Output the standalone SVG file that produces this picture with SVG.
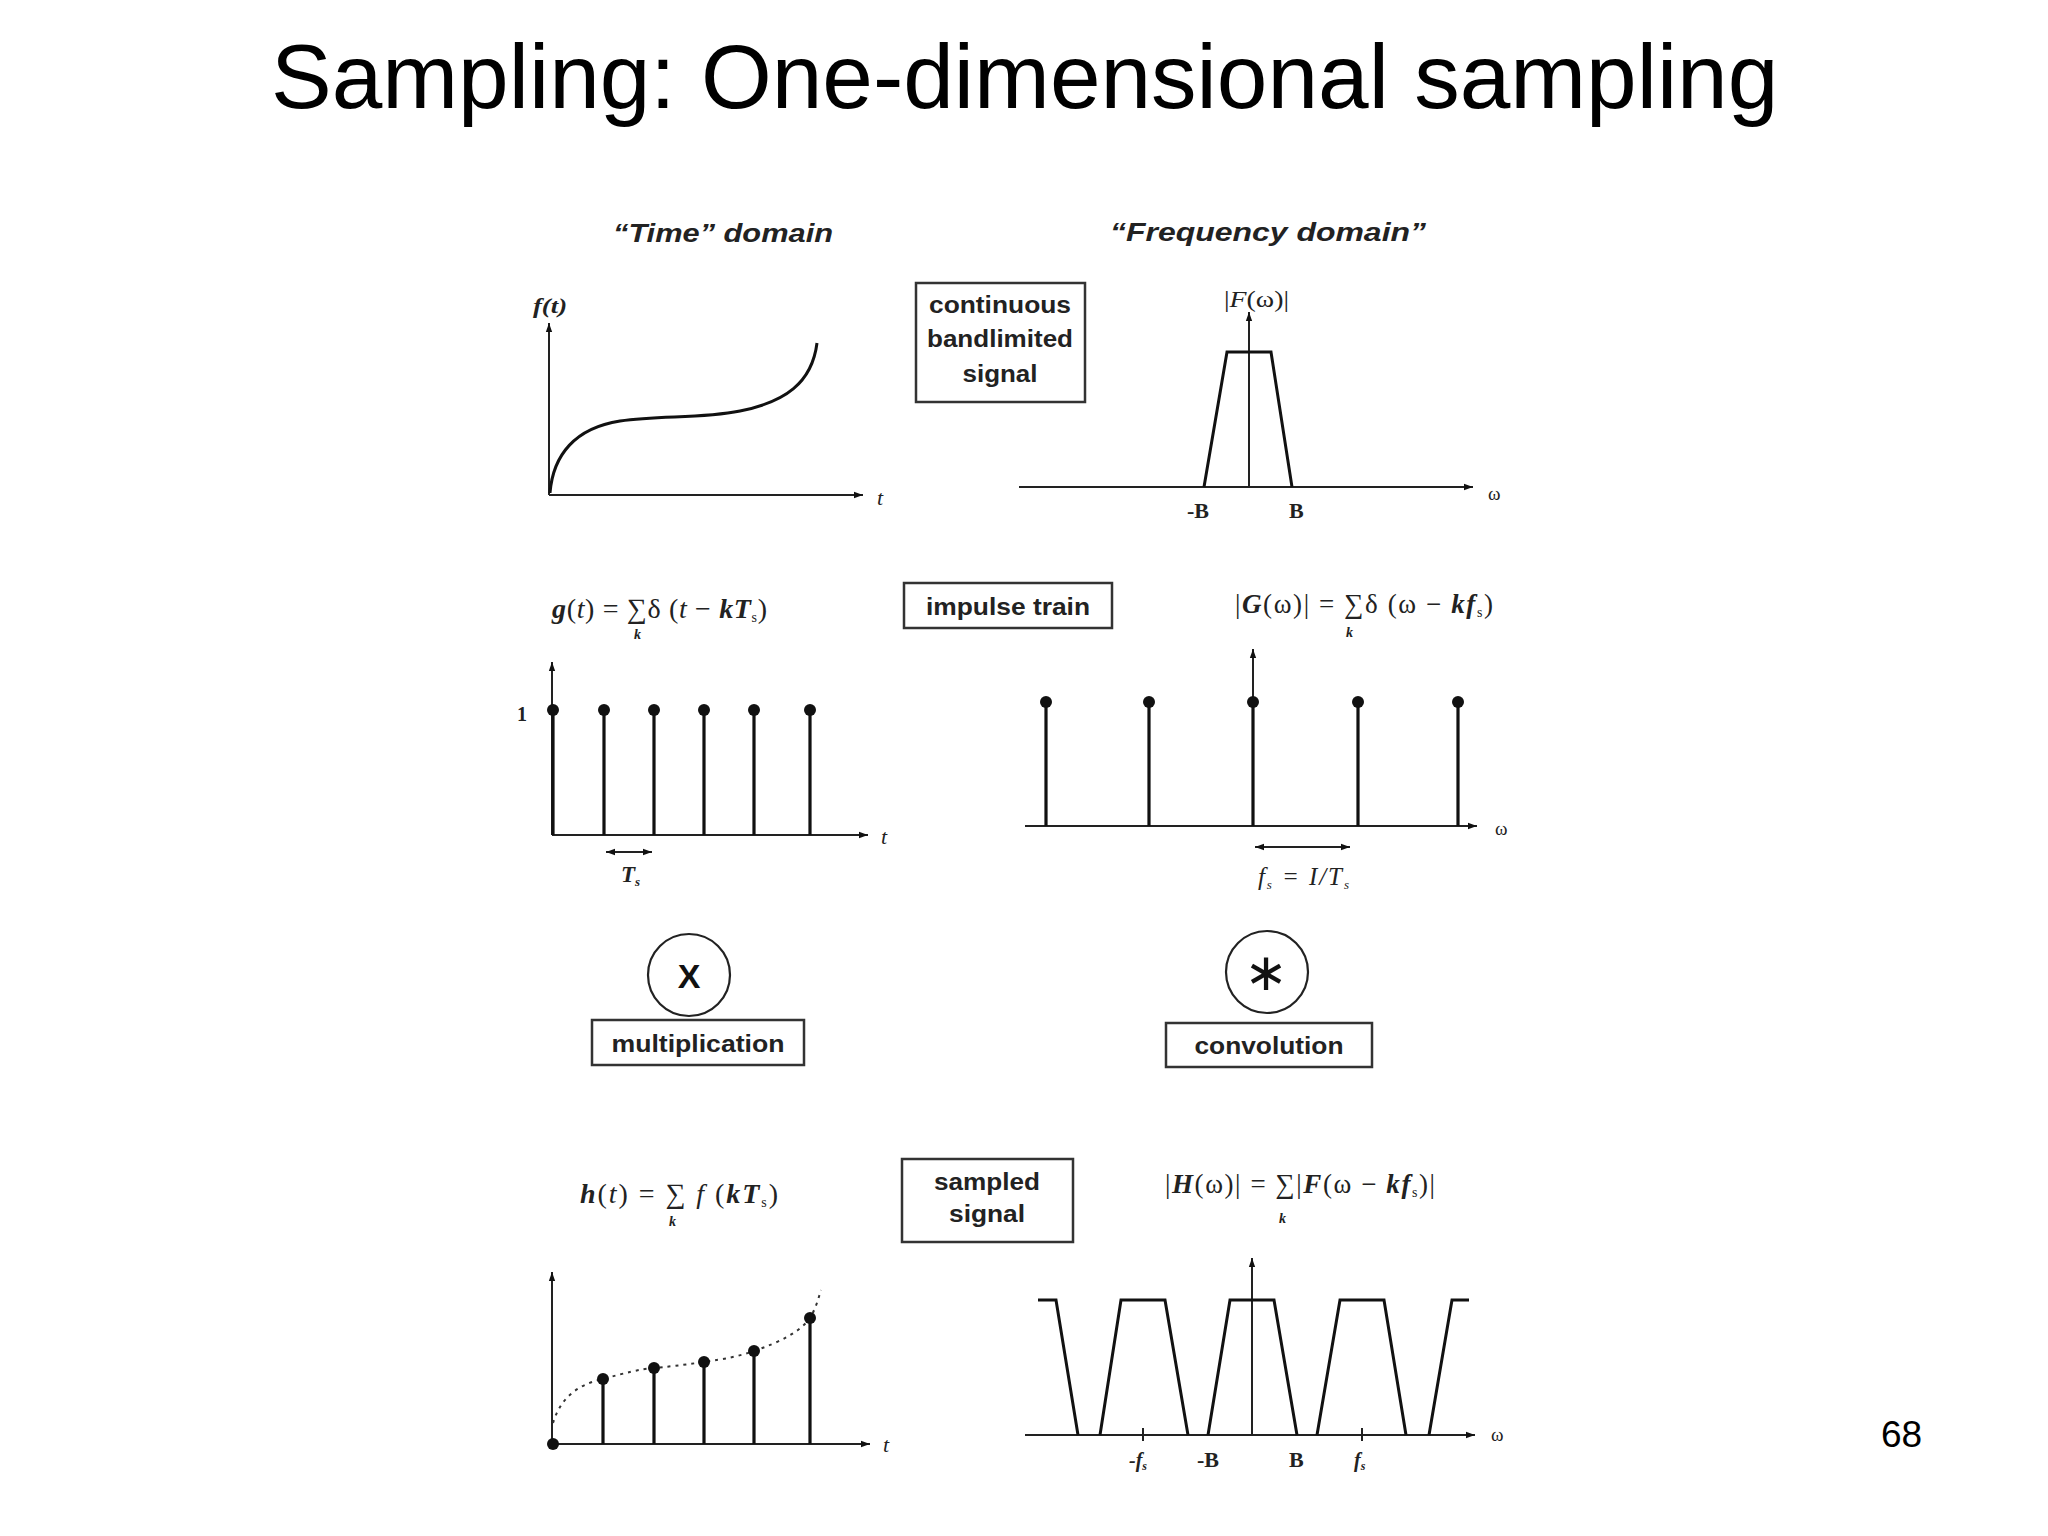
<svg xmlns="http://www.w3.org/2000/svg" width="2048" height="1536" viewBox="0 0 2048 1536">
<defs>
<marker id="ah" viewBox="0 0 10 10" refX="10" refY="5" markerWidth="10" markerHeight="9" markerUnits="userSpaceOnUse" orient="auto-start-reverse"><path d="M0,1.5 L10,5 L0,8.5 z" fill="#111"/></marker>
</defs>
<style>
.title{font-family:"Liberation Sans",Arial,sans-serif;font-size:91px;fill:#000}
.pg{font-family:"Liberation Sans",Arial,sans-serif;font-size:37px;fill:#000}
.hd{font-family:"Liberation Sans",Arial,sans-serif;font-size:25px;font-weight:bold;font-style:italic;fill:#222}
.bx{fill:none;stroke:#333;stroke-width:2.5}
.bt{font-family:"Liberation Sans",Arial,sans-serif;font-size:23px;font-weight:bold;fill:#222;text-anchor:middle}
.f{font-family:"Liberation Serif","Times New Roman",serif;font-size:27px;fill:#222}
.bi{font-weight:bold;font-style:italic}
.it{font-style:italic}
.sm{font-family:"Liberation Serif","Times New Roman",serif;font-size:19px;fill:#222}
.kk{font-family:"Liberation Serif","Times New Roman",serif;font-size:14px;font-weight:bold;font-style:italic;fill:#222}
.lb{font-family:"Liberation Serif","Times New Roman",serif;font-size:22px;font-weight:bold;fill:#222}
.ax{fill:none;stroke:#222;stroke-width:2;marker-end:url(#ah)}
.da{fill:none;stroke:#222;stroke-width:2;marker-start:url(#ah);marker-end:url(#ah)}
.st{stroke:#111;stroke-width:3.2;fill:none}
.dot{fill:#111}
.cv{fill:none;stroke:#111;stroke-width:3}
.dt{fill:none;stroke:#333;stroke-width:2;stroke-dasharray:3 5}
.cir{fill:none;stroke:#222;stroke-width:2.2}
</style>
<rect width="2048" height="1536" fill="#fff"/>

<g id="title"><text class="title" x="271" y="108">Sampling: One-dimensional sampling</text></g>
<g id="page-number"><text class="pg" x="1881" y="1447">68</text></g>

<g id="heading-time"><text class="hd" x="613" y="242" textLength="220" lengthAdjust="spacingAndGlyphs">“Time” domain</text></g>
<g id="heading-frequency"><text class="hd" x="1110" y="241" textLength="316" lengthAdjust="spacingAndGlyphs">“Frequency  domain”</text></g>

<g id="connectors">
<path class="ax" d="M549,495 L549,323"/>
<path class="ax" d="M549,495 L863,495"/>
<path class="ax" d="M1249,487 L1249,312"/>
<path class="ax" d="M1019,487 L1473,487"/>
<path class="ax" d="M552,835 L552,662"/>
<path class="ax" d="M552,835 L868,835"/>
<path class="ax" d="M1253,826 L1253,649"/>
<path class="ax" d="M1025,826 L1477,826"/>
<path class="ax" d="M552,1444 L552,1272"/>
<path class="ax" d="M552,1444 L870,1444"/>
<path class="ax" d="M1252,1435 L1252,1258"/>
<path class="ax" d="M1025,1435 L1475,1435"/>
<path class="da" d="M606,852 L652,852"/>
<path class="da" d="M1255,847 L1350,847"/>
</g>

<g id="box-continuous">
<rect class="bx" x="916" y="283" width="169" height="119"/>
<text class="bt" x="1000" y="313" textLength="142" lengthAdjust="spacingAndGlyphs">continuous</text>
<text class="bt" x="1000" y="347" textLength="146" lengthAdjust="spacingAndGlyphs">bandlimited</text>
<text class="bt" x="1000" y="382" textLength="75" lengthAdjust="spacingAndGlyphs">signal</text>
</g>

<g id="plot-f-t">
<text class="lb it" x="533" y="313" textLength="34" lengthAdjust="spacingAndGlyphs">f(t)</text>
<path class="cv" d="M550,493 C553,455 575,428 620,421 C660,415 700,419 740,411 C785,402 812,383 817,343"/>
<text class="sm it" x="877" y="505" style="font-size:22px">t</text>
</g>

<g id="plot-F-w">
<text class="f" x="1224" y="307" textLength="65" lengthAdjust="spacingAndGlyphs" style="font-size:23px">|<tspan class="it">F</tspan>(ω)|</text>
<path class="cv" d="M1204,487 L1227,352 L1271,352 L1292,487"/>
<text class="sm" x="1488" y="500">ω</text>
<text class="lb" x="1187" y="518">-B</text>
<text class="lb" x="1289" y="518">B</text>
</g>

<g id="box-impulse">
<rect class="bx" x="904" y="583" width="208" height="45"/>
<text class="bt" x="1008" y="615" textLength="164" lengthAdjust="spacingAndGlyphs">impulse train</text>
</g>

<g id="plot-g-t">
<text class="f" x="552" y="618" textLength="215" lengthAdjust="spacing" style="font-size:28px"><tspan class="bi">g</tspan>(<tspan class="it">t</tspan>) = ∑δ (<tspan class="it">t</tspan> − <tspan class="bi">kT</tspan><tspan font-size="14" dy="4">s</tspan><tspan dy="-4">)</tspan></text>
<text class="kk" x="634" y="639">k</text>
<text class="lb" x="517" y="721" style="font-size:20px">1</text>
<path class="st" d="M553,835V710 M604,835V710 M654,835V710 M704,835V710 M754,835V710 M810,835V710"/>
<g class="dot"><circle cx="553" cy="710" r="6"/><circle cx="604" cy="710" r="6"/><circle cx="654" cy="710" r="6"/><circle cx="704" cy="710" r="6"/><circle cx="754" cy="710" r="6"/><circle cx="810" cy="710" r="6"/></g>
<text class="sm it" x="881" y="844" style="font-size:22px">t</text>
<text class="f bi" x="621" y="882" style="font-size:23px">T<tspan font-size="13" dy="4">s</tspan></text>
</g>

<g id="plot-G-w">
<text class="f" x="1235" y="613" textLength="258" lengthAdjust="spacing">|<tspan class="bi">G</tspan>(ω)| = ∑δ (ω − <tspan class="bi">kf</tspan><tspan font-size="14" dy="4">s</tspan><tspan dy="-4">)</tspan></text>
<text class="kk" x="1346" y="637">k</text>
<path class="st" d="M1046,826V702 M1149,826V702 M1253,826V702 M1358,826V702 M1458,826V702"/>
<g class="dot"><circle cx="1046" cy="702" r="6"/><circle cx="1149" cy="702" r="6"/><circle cx="1253" cy="702" r="6"/><circle cx="1358" cy="702" r="6"/><circle cx="1458" cy="702" r="6"/></g>
<text class="sm" x="1495" y="835">ω</text>
<text class="f it" x="1258" y="885" textLength="91" lengthAdjust="spacing" style="font-size:25px">f<tspan font-size="13" dy="4">s</tspan><tspan dy="-4"> = </tspan>I/T<tspan font-size="13" dy="4">s</tspan></text>
</g>

<g id="op-multiplication">
<circle class="cir" cx="689" cy="975" r="41"/>
<text x="689" y="988" font-family="Liberation Sans,Arial,sans-serif" font-size="34" font-weight="bold" text-anchor="middle" fill="#111">X</text>
<rect class="bx" x="592" y="1020" width="212" height="45"/>
<text class="bt" x="698" y="1052" textLength="173" lengthAdjust="spacingAndGlyphs">multiplication</text>
</g>

<g id="op-convolution">
<circle class="cir" cx="1267" cy="972" r="41"/>
<text x="1266" y="990" font-family="DejaVu Sans,sans-serif" font-size="52" text-anchor="middle" fill="#111">∗</text>
<rect class="bx" x="1166" y="1023" width="206" height="44"/>
<text class="bt" x="1269" y="1054" textLength="149" lengthAdjust="spacingAndGlyphs">convolution</text>
</g>

<g id="box-sampled">
<rect class="bx" x="902" y="1159" width="171" height="83"/>
<text class="bt" x="987" y="1190" textLength="106" lengthAdjust="spacingAndGlyphs">sampled</text>
<text class="bt" x="987" y="1222" textLength="76" lengthAdjust="spacingAndGlyphs">signal</text>
</g>

<g id="plot-h-t">
<text class="f" x="580" y="1203" textLength="198" lengthAdjust="spacing" style="font-size:28px"><tspan class="bi">h</tspan>(<tspan class="it">t</tspan>) = ∑ <tspan class="it">f</tspan> (<tspan class="bi">kT</tspan><tspan font-size="14" dy="4">s</tspan><tspan dy="-4">)</tspan></text>
<text class="kk" x="669" y="1226">k</text>
<path class="dt" d="M553,1423 C560,1400 575,1385 603,1379 C625,1373 640,1369 654,1368 C675,1366 690,1364 704,1362 C725,1359 740,1356 754,1351 C780,1342 800,1332 810,1318 C815,1310 818,1300 821,1290"/>
<path class="st" d="M603,1444V1379 M654,1444V1368 M704,1444V1362 M754,1444V1351 M810,1444V1318"/>
<g class="dot"><circle cx="553" cy="1444" r="6"/><circle cx="603" cy="1379" r="6"/><circle cx="654" cy="1368" r="6"/><circle cx="704" cy="1362" r="6"/><circle cx="754" cy="1351" r="6"/><circle cx="810" cy="1318" r="6"/></g>
<text class="sm it" x="883" y="1452" style="font-size:22px">t</text>
</g>

<g id="plot-H-w">
<text class="f" x="1165" y="1193" textLength="270" lengthAdjust="spacing">|<tspan class="bi">H</tspan>(ω)| = ∑|<tspan class="bi">F</tspan>(ω − <tspan class="bi">kf</tspan><tspan font-size="14" dy="4">s</tspan><tspan dy="-4">)|</tspan></text>
<text class="kk" x="1279" y="1223">k</text>
<path class="cv" d="M1038,1300 L1056,1300 L1078,1435 M1100,1435 L1121,1300 L1165,1300 L1188,1435 M1208,1435 L1230,1300 L1274,1300 L1297,1435 M1317,1435 L1340,1300 L1384,1300 L1406,1435 M1429,1435 L1452,1300 L1469,1300"/>
<path stroke="#222" stroke-width="2" d="M1143,1428V1441 M1362,1428V1441"/>
<text class="sm" x="1491" y="1441">ω</text>
<text class="lb it" x="1129" y="1467" style="font-size:20px">-f<tspan font-size="12" dy="3">s</tspan></text>
<text class="lb" x="1197" y="1467">-B</text>
<text class="lb" x="1289" y="1467">B</text>
<text class="lb it" x="1354" y="1467" style="font-size:20px">f<tspan font-size="12" dy="3">s</tspan></text>
</g>
</svg>
